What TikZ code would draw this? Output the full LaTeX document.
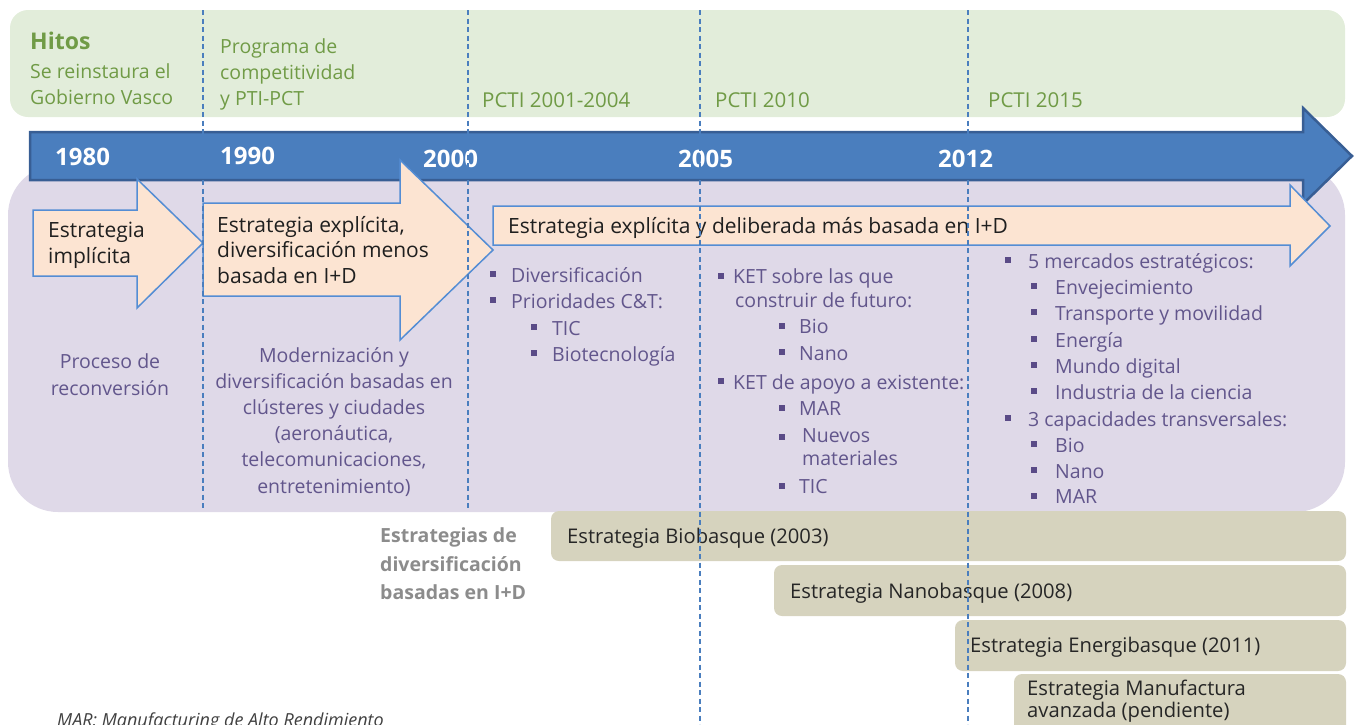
\documentclass[tikz,border=0pt]{standalone}
\usepackage{fontspec}
\setmainfont{Open Sans}
\definecolor{hitosbg}{RGB}{226,237,218}
\definecolor{hitostx}{RGB}{112,155,70}
\definecolor{lilabg}{RGB}{223,217,232}
\definecolor{lilatx}{RGB}{98,86,140}
\definecolor{lilabul}{RGB}{90,75,135}
\definecolor{ejebg}{RGB}{74,126,190}
\definecolor{ejebd}{RGB}{56,94,148}
\definecolor{flechabg}{RGB}{252,228,210}
\definecolor{flechabd}{RGB}{84,141,212}
\definecolor{estrbg}{RGB}{214,211,190}
\definecolor{grisbold}{RGB}{140,140,140}
\begin{document}
\begin{tikzpicture}[x=1pt,y=-1pt,
  txt/.style={anchor=base west,inner sep=0pt,font=\fontsize{19.5}{26}\selectfont},
  verde/.style={txt,text=hitostx},
  lila/.style={txt,text=lilatx},
  negro/.style={txt,text=black!88,font=\fontsize{21}{26}\selectfont},
  caja/.style={txt,text=black!85,font=\fontsize{20.2}{26}\selectfont},
  gris/.style={txt,text=grisbold,font=\fontsize{19.5}{26}\selectfont\bfseries},
  anyo/.style={anchor=base west,inner sep=0pt,text=white,font=\fontsize{24}{28}\selectfont\bfseries},
  flecha/.style={fill=flechabg,draw=flechabd,line width=1.5pt,line join=miter},
  estr/.style={fill=estrbg,rounded corners=8pt},
  corte/.style={draw=ejebg,line width=1.3pt,dash pattern=on 5pt off 3.5pt}]

  \useasboundingbox (0,0) rectangle (1355,724);

  %% fondos
  \fill[hitosbg,rounded corners=18pt] (10,10) rectangle (1345,117);
  \fill[lilabg,rounded corners=50pt] (8,165) rectangle (1345,512);

  %% eje temporal
  \draw[fill=ejebg,draw=ejebd,line width=2.5pt,line join=miter]
  (30,132) -- (1303,132) -- (1303,108) -- (1352,156) -- (1303,204) -- (1303,180) -- (30,180) -- cycle;

  %% hitos
  \node[verde,font=\fontsize{23}{26}\selectfont\bfseries] (hitos) at (30,49) {Hitos};
  \node[verde] (h1a) at (30,78) {Se reinstaura el};
  \node[verde] (h1b) at (30,104) {Gobierno Vasco};
  \node[verde] (h2a) at (220,53) {Programa de};
  \node[verde] (h2b) at (220,79) {competitividad};
  \node[verde] (h2c) at (220,105) {y PTI-PCT};
  \node[verde,font=\fontsize{20.5}{26}\selectfont] (h3) at (482,107) {PCTI 2001-2004};
  \node[verde,font=\fontsize{20.5}{26}\selectfont] (h4) at (715,107) {PCTI 2010};
  \node[verde,font=\fontsize{20.5}{26}\selectfont] (h5) at (988,107) {PCTI 2015};

  %% flechas de estrategia
  \draw[flecha] (33,210) -- (137,210) -- (137,179) -- (203,243) -- (137,308) -- (137,276) -- (33,276) -- cycle;
  \draw[flecha] (203,203) -- (400,203) -- (400,160) -- (493,250) -- (400,340) -- (400,296) -- (203,296) -- cycle;
  \draw[flecha] (493,206) -- (1290,206) -- (1290,185) -- (1330,226) -- (1290,266) -- (1290,245) -- (493,245) -- cycle;
  \node[negro] (e1a) at (48,237) {Estrategia};
  \node[negro] (e1b) at (48,263) {implícita};
  \node[negro] (e2a) at (217,232) {Estrategia explícita,};
  \node[negro] (e2b) at (217,257) {diversificación menos};
  \node[negro] (e2c) at (217,283) {basada en I+D};
  \node[negro] (e3) at (508,233) {Estrategia explícita y deliberada más basada en I+D};

  \node[anyo] (y1980) at (55,165) {1980};
  \node[anyo] (y1990) at (220,164) {1990};
  \node[anyo] (y2000) at (423,167) {2000};
  \node[anyo] (y2005) at (678,167) {2005};
  \node[anyo] (y2012) at (938,167) {2012};

  %% texto por periodo
  \node[lila,anchor=base] (p1a) at (110,368) {Proceso de};
  \node[lila,anchor=base] (p1b) at (110,395) {reconversión};
  \foreach \y/\t [count=\i] in {362/Modernización y,388/diversificación basadas en,
    414/clústeres y ciudades,440/{(aeronáutica,},466/{telecomunicaciones,},493/entretenimiento)}
    \node[lila,anchor=base] (p2\i) at (334,\y) {\t};

  \foreach \x/\y/\t [count=\i] in {511/282/Diversificación,511/308/Prioridades C\&T:,
    552/335/TIC,552/361/Biotecnología}
    \node[lila] (p3\i) at (\x,\y) {\t};

  \foreach \x/\y/\t [count=\i] in {733/283/KET sobre las que,735/307/construir de futuro:,
    799/333/Bio,799/360/Nano,733/389/KET de apoyo a existente:,799/415/MAR,
    802/442/Nuevos,802/465/materiales,799/493/TIC}
    \node[lila] (p4\i) at (\x,\y) {\t};

  \foreach \x/\y/\t [count=\i] in {1028/268/5 mercados estratégicos:,1055/294/Envejecimiento,
    1055/320/Transporte y movilidad,1055/347/Energía,1055/373/Mundo digital,
    1055/399/Industria de la ciencia,1028/426/3 capacidades transversales:,
    1055/452/Bio,1055/478/Nano,1055/503/MAR}
    \node[lila] (p5\i) at (\x,\y) {\t};

  %% vinetas
  \foreach \x/\y in {493/274,493/300,534/327,534/353,
    721/276,782/326,782/352,721/381,782/408,782/437,782/486,
    1008/260,1034/286,1034/312,1034/339,1034/365,1034/391,1008/418,1034/444,1034/470,1034/496}
    \fill[lilabul] (\x-3,\y-3) rectangle (\x+3,\y+3);

  %% estrategias de diversificacion
  \node[gris] (d1) at (380,542) {Estrategias de};
  \node[gris] (d2) at (380,571) {diversificación};
  \node[gris] (d3) at (380,599) {basadas en I+D};

  \fill[estr] (551,511) rectangle (1346,561);
  \fill[estr] (774,565) rectangle (1346,616);
  \fill[estr] (955,620) rectangle (1346,671);
  \fill[estr] (1014,674) rectangle (1346,740);
  \node[caja] (bio) at (567,543) {Estrategia Biobasque (2003)};
  \node[caja] (nano) at (790,598) {Estrategia Nanobasque (2008)};
  \node[caja] (energi) at (970,652) {Estrategia Energibasque (2011)};
  \node[caja] (manu1) at (1027,695) {Estrategia Manufactura};
  \node[caja] (manu2) at (1027,717) {avanzada (pendiente)};

  \node[txt,text=black!75,font=\fontsize{18}{22}\selectfont\itshape] (nota) at (57,726) {MAR: Manufacturing de Alto Rendimiento};

  %% cortes de periodo
  \draw[corte] (203,10) -- (203,510);
  \draw[corte] (468,10) -- (468,510);
  \draw[corte] (700,10) -- (700,724);
  \draw[corte] (968,10) -- (968,724);

\end{tikzpicture}
\end{document}
